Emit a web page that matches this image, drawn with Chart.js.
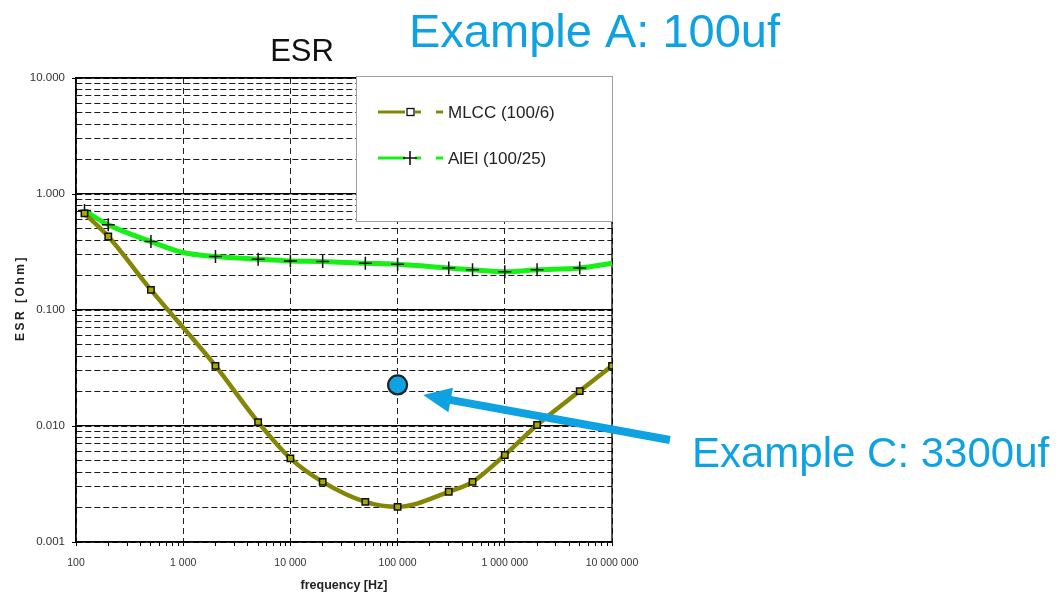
<!DOCTYPE html>
<html><head><meta charset="utf-8">
<script src="https://cdn.jsdelivr.net/npm/chart.js@4.4.1/dist/chart.umd.min.js"></script>
<style>html,body{margin:0;padding:0;background:#fff;}#wrap{width:1060px;height:594px;position:relative;}</style>
</head><body><div id="wrap"><canvas id="c"></canvas></div>
<script>
// ---- data ----
const freqMLCC = [120, 200, 500, 2000, 5000, 10000, 20000, 50000, 100000, 300000, 500000, 1000000, 2000000, 5000000, 10000000];
const esrMLCC  = [0.68, 0.43, 0.149, 0.033, 0.0108, 0.00526, 0.0033, 0.00222, 0.00201, 0.00271, 0.0033, 0.00562, 0.0102, 0.020, 0.033];
const freqAlEl = [120, 200, 500, 1000, 2000, 5000, 10000, 20000, 50000, 100000, 300000, 500000, 1000000, 2000000, 5000000, 10000000];
const esrAlEl  = [0.72, 0.542, 0.389, 0.313, 0.289, 0.274, 0.265, 0.262, 0.253, 0.248, 0.230, 0.222, 0.214, 0.222, 0.230, 0.253];
const unmarkedAlEl = [1000, 10000000];
const exampleCFreq = [100000];
const exampleCEsr = [0.0226];
const arrowTip = [173000, 0.0185];
const arrowTail = [34700000, 0.00757];
const xDecades = [100, 1000, 10000, 100000, 1000000, 10000000];
const xTickLabels = ['100', '1 000', '10 000', '100 000', '1 000 000', '10 000 000'];
const yDecades = [0.001, 0.01, 0.1, 1, 10];
const yTickLabels = ['0.001', '0.010', '0.100', '1.000', '10.000'];
const seriesNames = ['MLCC (100/6)', 'AlEl (100/25)'];
const titleText = 'ESR';
const xTitle = 'frequency [Hz]';
const yTitle = 'ESR [Ohm]';
const noteA = 'Example A: 100uf';
const noteC = 'Example C: 3300uf';

// ---- helpers ----
const SANS = "'Liberation Sans', Arial, sans-serif";
const OLIVE = '#868606';
const GREEN = '#17f017';
const BLUE = '#0ea2e2';
function withMinors(decades) {
  const out = [];
  decades.forEach((d, i) => {
    out.push(d);
    if (i < decades.length - 1) for (let m = 2; m <= 9; m++) out.push(+(m * d).toPrecision(6));
  });
  return out;
}
const xTickVals = withMinors(xDecades);
const yTickVals = withMinors(yDecades);
function isDecade(v, list) { return list.some(d => Math.abs(d - v) / d < 1e-9); }
function labelFor(v, list, labels) {
  const i = list.findIndex(d => Math.abs(d - v) / d < 1e-9);
  return i >= 0 ? labels[i] : '';
}

const deco = {
  id: 'deco',
  beforeDatasetsDraw(chart) {
    const { ctx, chartArea: a } = chart;
    ctx.save();
    ctx.strokeStyle = '#000';
    ctx.lineWidth = 1.3;
    ctx.strokeRect(a.left, a.top, a.right - a.left, a.bottom - a.top);
    ctx.restore();
  },
  afterDatasetsDraw(chart) {
    const { ctx, scales } = chart;
    const xs = scales.x, ys = scales.y;
    // legend box
    ctx.save();
    ctx.fillStyle = '#fff';
    ctx.fillRect(356, 76, 257, 146);
    ctx.strokeStyle = '#a0a0a0';
    ctx.lineWidth = 1;
    ctx.strokeRect(356.5, 76.5, 256, 145);
    const rows = [
      { y: 112, color: OLIVE, kind: 'rect' },
      { y: 158, color: GREEN, kind: 'cross' }
    ];
    rows.forEach((r, i) => {
      ctx.strokeStyle = r.color;
      ctx.lineWidth = 3;
      ctx.beginPath(); ctx.moveTo(378, r.y); ctx.lineTo(405, r.y); ctx.stroke();
      ctx.beginPath(); ctx.moveTo(415, r.y); ctx.lineTo(421, r.y); ctx.stroke();
      ctx.beginPath(); ctx.moveTo(436, r.y); ctx.lineTo(443, r.y); ctx.stroke();
      if (r.kind === 'rect') {
        ctx.fillStyle = '#fff';
        ctx.fillRect(407, r.y - 3.5, 7, 7);
        ctx.strokeStyle = '#111'; ctx.lineWidth = 1.3;
        ctx.strokeRect(407, r.y - 3.5, 7, 7);
      } else {
        ctx.strokeStyle = '#111'; ctx.lineWidth = 1.6;
        ctx.beginPath();
        ctx.moveTo(403, r.y); ctx.lineTo(417, r.y);
        ctx.moveTo(410, r.y - 7); ctx.lineTo(410, r.y + 7);
        ctx.stroke();
      }
      ctx.fillStyle = '#222';
      ctx.font = '17px ' + SANS;
      ctx.textBaseline = 'middle';
      ctx.textAlign = 'left';
      ctx.fillText(seriesNames[i], 448, r.y + 1);
    });
    // arrow
    const tx = xs.getPixelForValue(arrowTip[0]), ty = ys.getPixelForValue(arrowTip[1]);
    const sx = xs.getPixelForValue(arrowTail[0]), sy = ys.getPixelForValue(arrowTail[1]);
    const ang = Math.atan2(ty - sy, tx - sx);
    const hl = 28, hw = 12.5;
    const bx = tx - hl * Math.cos(ang), by = ty - hl * Math.sin(ang);
    ctx.strokeStyle = BLUE; ctx.fillStyle = BLUE;
    ctx.lineWidth = 8; ctx.lineCap = 'butt';
    ctx.beginPath(); ctx.moveTo(sx, sy); ctx.lineTo(bx + 2 * Math.cos(ang), by + 2 * Math.sin(ang)); ctx.stroke();
    ctx.beginPath();
    ctx.moveTo(tx, ty);
    ctx.lineTo(bx - hw * Math.sin(ang), by + hw * Math.cos(ang));
    ctx.lineTo(bx + hw * Math.sin(ang), by - hw * Math.cos(ang));
    ctx.closePath(); ctx.fill();
    ctx.restore();
  },
  afterDraw(chart) {
    const { ctx, chartArea: a } = chart;
    ctx.save();
    ctx.fillStyle = '#111';
    ctx.textAlign = 'center';
    ctx.textBaseline = 'alphabetic';
    ctx.font = '31px ' + SANS;
    ctx.fillText(titleText, 302, 61);
    ctx.fillStyle = BLUE;
    ctx.textAlign = 'left';
    ctx.font = '47px ' + SANS;
    ctx.fillText(noteA, 409, 47);
    ctx.font = '42px ' + SANS;
    ctx.fillText(noteC, 692, 467);
    // axis titles
    ctx.fillStyle = '#222';
    ctx.textAlign = 'center';
    ctx.font = 'bold 12.5px ' + SANS;
    ctx.fillText(xTitle, (a.left + a.right) / 2, 589);
    ctx.translate(21, 298);
    ctx.rotate(-Math.PI / 2);
    ctx.textBaseline = 'middle';
    ctx.font = 'bold 12px ' + SANS;
    try { ctx.letterSpacing = '2.5px'; } catch (e) {}
    ctx.fillText(yTitle, 0, 0);
    ctx.restore();
  }
};

const ctxEl = document.getElementById('c');
new Chart(ctxEl, {
  type: 'line',
  data: {
    datasets: [
      {
        label: seriesNames[1],
        data: freqAlEl.map((f, i) => ({ x: f, y: esrAlEl[i] })),
        borderColor: GREEN, borderWidth: 5,
        cubicInterpolationMode: 'monotone',
        pointStyle: 'cross',
        pointRadius: c => unmarkedAlEl.includes(c.raw && c.raw.x) ? 0 : 6.5,
        pointBorderColor: '#111', pointBorderWidth: 1.5,
        order: 3
      },
      {
        label: seriesNames[0],
        data: freqMLCC.map((f, i) => ({ x: f, y: esrMLCC[i] })),
        borderColor: OLIVE, borderWidth: 4.5,
        cubicInterpolationMode: 'monotone',
        pointStyle: 'rect', pointRadius: 4.5,
        pointBackgroundColor: '#a8a800', pointBorderColor: '#111', pointBorderWidth: 1.5,
        order: 2
      },
      {
        label: 'Example C',
        data: exampleCFreq.map((f, i) => ({ x: f, y: exampleCEsr[i] })),
        showLine: false,
        pointStyle: 'circle', pointRadius: 9.5,
        pointBackgroundColor: BLUE, pointBorderColor: '#222', pointBorderWidth: 2.2,
        order: 1
      }
    ]
  },
  options: {
    responsive: true, maintainAspectRatio: false, animation: false, events: [],
    layout: { padding: { left: 0, right: 448, top: 78, bottom: 0 } },
    plugins: { legend: { display: false }, tooltip: { enabled: false }, title: { display: false } },
    scales: {
      x: {
        type: 'logarithmic', min: 100, max: 10000000,
        afterBuildTicks: s => { s.ticks = xTickVals.map(v => ({ value: v })); },
        afterFit: s => { s.height = 52; },
        grid: {
          color: c => (c.tick && isDecade(c.tick.value, xDecades)) ? '#222' : 'rgba(0,0,0,0)',
          tickColor: '#000', lineWidth: 1, tickLength: 4, tickWidth: 1
        },
        border: { display: true, color: '#000', width: 1.3, dash: [6, 4] },
        ticks: {
          autoSkip: false, maxRotation: 0, minRotation: 0, padding: 11,
          color: '#333', font: { family: SANS, size: 10.5 },
          callback: v => labelFor(v, xDecades, xTickLabels)
        }
      },
      y: {
        type: 'logarithmic', min: 0.001, max: 10, position: 'left',
        afterBuildTicks: s => { s.ticks = yTickVals.map(v => ({ value: v })); },
        afterFit: s => { s.width = 76; },
        grid: {
          color: '#1a1a1a', lineWidth: 1,
          tickColor: c => (c.tick && isDecade(c.tick.value, yDecades)) ? '#000' : 'rgba(0,0,0,0)',
          tickLength: 4
        },
        border: { display: true, color: '#000', width: 1.3, dash: [6, 3] },
        ticks: {
          autoSkip: false, padding: 7, color: '#333', font: { family: SANS, size: 11.5 },
          callback: v => labelFor(v, yDecades, yTickLabels)
        }
      },
      y2: {
        type: 'logarithmic', min: 0.001, max: 10, position: 'right',
        afterBuildTicks: s => { s.ticks = yDecades.map(v => ({ value: v })); },
        afterFit: s => { s.width = 0; },
        grid: { color: '#000', lineWidth: 1.2, drawTicks: false },
        border: { display: false, dash: [] },
        ticks: { display: false }
      }
    }
  },
  plugins: [deco]
});
</script>
</body></html>
